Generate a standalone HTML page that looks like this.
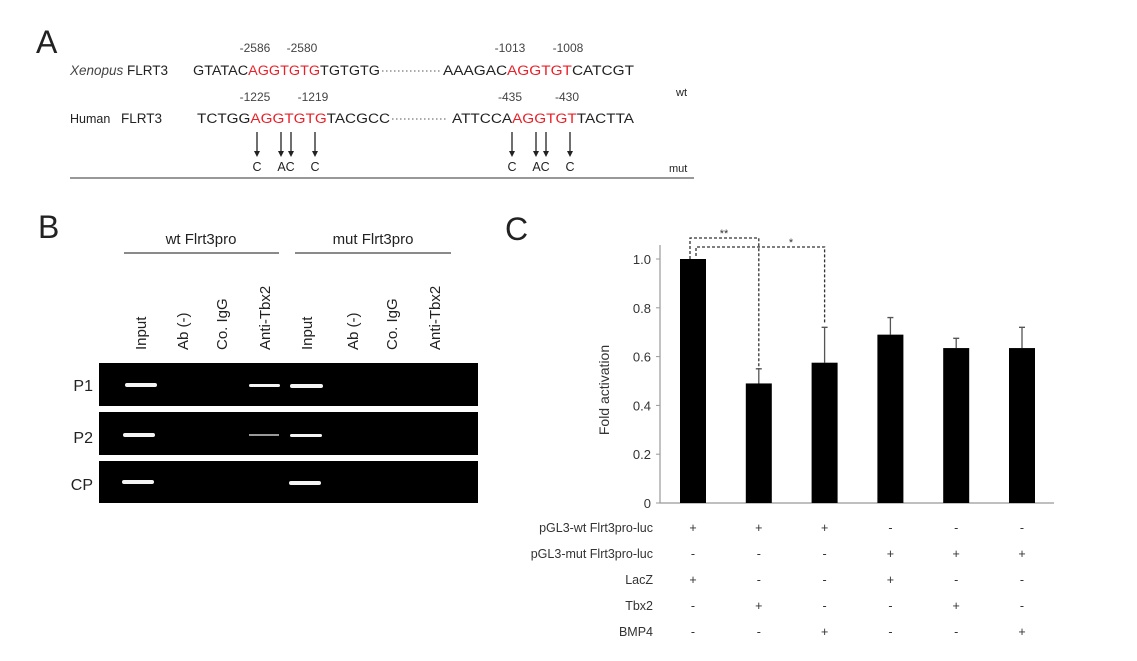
<!DOCTYPE html>
<html><head><meta charset="utf-8"><style>
body{margin:0;background:#fff;}
svg{display:block;font-family:"Liberation Sans",Arial,sans-serif;}
</style></head><body>
<svg width="1137" height="661" viewBox="0 0 1137 661">
<!-- Panel A -->
<g fill="#222">
<text x="36" y="53" font-size="32">A</text>
<g font-size="12" fill="#444">
<text x="255" y="52" text-anchor="middle">-2586</text><text x="302" y="52" text-anchor="middle">-2580</text>
<text x="510" y="52" text-anchor="middle">-1013</text><text x="568" y="52" text-anchor="middle">-1008</text>
<text x="255" y="101" text-anchor="middle">-1225</text><text x="313" y="101" text-anchor="middle">-1219</text>
<text x="510" y="101" text-anchor="middle">-435</text><text x="567" y="101" text-anchor="middle">-430</text>
</g>
<g font-size="13.5">
<text x="70" y="75"><tspan font-style="italic" fill="#444">Xenopus</tspan> FLRT3</text>
<text x="193" y="75" textLength="187" lengthAdjust="spacingAndGlyphs">GTATAC<tspan fill="#e8222a">AGGTGTG</tspan>TGTGTG</text>
<line x1="382" y1="71" x2="440" y2="71" stroke="#555" stroke-dasharray="1.5 2.5"/>
<text x="443" y="75" textLength="191" lengthAdjust="spacingAndGlyphs">AAAGAC<tspan fill="#e8222a">AGGTGT</tspan>CATCGT</text>
</g>
<text x="676" y="96" font-size="11">wt</text>
<g font-size="13.5">
<text x="70" y="123" font-size="12.5">Human</text><text x="121" y="123">FLRT3</text>
<text x="197" y="123" textLength="193" lengthAdjust="spacingAndGlyphs">TCTGG<tspan fill="#e8222a">AGGTGTG</tspan>TACGCC</text>
<line x1="392" y1="119" x2="448" y2="119" stroke="#555" stroke-dasharray="1.5 2.5"/>
<text x="452" y="123" textLength="182" lengthAdjust="spacingAndGlyphs">ATTCCA<tspan fill="#e8222a">AGGTGT</tspan>TACTTA</text>
</g>
<g stroke="#222" stroke-width="1.3">
<path d="M257 132V153M281 132V153M291 132V153M315 132V153M512 132V153M536 132V153M546 132V153M570 132V153"/>
</g>
<g fill="#222">
<path d="M254 151h6l-3 6zM278 151h6l-3 6zM288 151h6l-3 6zM312 151h6l-3 6zM509 151h6l-3 6zM533 151h6l-3 6zM543 151h6l-3 6zM567 151h6l-3 6z"/>
</g>
<g font-size="12.5" text-anchor="middle">
<text x="257" y="171">C</text><text x="286" y="171">AC</text><text x="315" y="171">C</text>
<text x="512" y="171">C</text><text x="541" y="171">AC</text><text x="570" y="171">C</text>
</g>
<text x="669" y="172" font-size="11">mut</text>
<line x1="70" y1="178" x2="694" y2="178" stroke="#777" stroke-width="1.5"/>
</g>
<!-- Panel B -->
<g fill="#222">
<text x="38" y="238" font-size="32">B</text>
<text x="201" y="244" font-size="15" text-anchor="middle">wt Flrt3pro</text>
<text x="373" y="244" font-size="15" text-anchor="middle">mut Flrt3pro</text>
<line x1="124" y1="253" x2="279" y2="253" stroke="#444" stroke-width="1.3"/>
<line x1="295" y1="253" x2="451" y2="253" stroke="#444" stroke-width="1.3"/>
<g font-size="15">
<text transform="translate(146,350) rotate(-90)">Input</text>
<text transform="translate(188,350) rotate(-90)">Ab (-)</text>
<text transform="translate(227,350) rotate(-90)">Co. IgG</text>
<text transform="translate(270,350) rotate(-90)">Anti-Tbx2</text>
<text transform="translate(312,350) rotate(-90)">Input</text>
<text transform="translate(358,350) rotate(-90)">Ab (-)</text>
<text transform="translate(397,350) rotate(-90)">Co. IgG</text>
<text transform="translate(440,350) rotate(-90)">Anti-Tbx2</text>
</g>
<g font-size="16" text-anchor="end">
<text x="93" y="391">P1</text><text x="93" y="443">P2</text><text x="93" y="490">CP</text>
</g>
<rect x="99" y="363" width="379" height="43" fill="#000"/>
<rect x="99" y="412" width="379" height="43" fill="#000"/>
<rect x="99" y="461" width="379" height="42" fill="#000"/>
<g fill="#f4f4f4">
<rect x="125" y="383" width="32" height="4" rx="2"/><rect x="249" y="384" width="31" height="3" rx="1.5"/><rect x="290" y="384" width="33" height="4" rx="2"/>
<rect x="123" y="433" width="32" height="4" rx="2"/><rect x="249" y="434" width="30" height="2" fill="#999"/><rect x="290" y="434" width="32" height="3" rx="1.5"/>
<rect x="122" y="480" width="32" height="4" rx="2"/><rect x="289" y="481" width="32" height="4" rx="2"/>
</g>
</g>
<!-- Panel C -->
<g fill="#222">
<text x="505" y="240" font-size="32">C</text>
<g id="chart"></g>
</g>
<script>
const values = [1.0, 0.49, 0.575, 0.69, 0.635, 0.635];
const errTops = [null, 0.55, 0.72, 0.76, 0.675, 0.72];
const yTicks = [0, 0.2, 0.4, 0.6, 0.8, 1.0];
const yTickLabels = ["0", "0.2", "0.4", "0.6", "0.8", "1.0"];
const rowLabels = ["pGL3-wt Flrt3pro-luc", "pGL3-mut Flrt3pro-luc", "LacZ", "Tbx2", "BMP4"];
const conditions = [
  ["+","+","+","-","-","-"],
  ["-","-","-","+","+","+"],
  ["+","-","-","+","-","-"],
  ["-","+","-","-","+","-"],
  ["-","-","+","-","-","+"]
];
const NS = "http://www.w3.org/2000/svg";
const g = document.getElementById('chart');
const x0 = 660, x1 = 1054, yBase = 503, yTop = 259;
const ys = v => yBase - v * (yBase - yTop);
const xs = i => 693 + i * 65.8;
function mk(t, a, txt){const e=document.createElementNS(NS,t);for(const k in a)e.setAttribute(k,a[k]);if(txt!=null)e.textContent=txt;g.appendChild(e);return e;}
let ax = mk('path',{d:`M${x0} 245V${yBase}H${x1}`,fill:'none',stroke:'#999','stroke-width':1.2});


yTicks.forEach((v,i)=>{
  let t = mk('line',{x1:x0-4,x2:x0,y1:ys(v),y2:ys(v),stroke:'#999'});
  
  
  let l = mk('text',{x:x0-9,y:ys(v)+5,'font-size':13,'text-anchor':'end',fill:'#333'},yTickLabels[i]);
  
  
});
let yt = mk('text',{transform:`translate(609,390) rotate(-90)`,'font-size':14,'text-anchor':'middle',fill:'#333'},'Fold activation');


values.forEach((v,i)=>{
  if(errTops[i]!=null){
    let e = mk('path',{d:`M${xs(i)} ${ys(v)}V${ys(errTops[i])}M${xs(i)-3} ${ys(errTops[i])}H${xs(i)+3}`,stroke:'#555','stroke-width':1.3,fill:'none'});
    
    
  }
  let b = mk('rect',{x:xs(i)-13,y:ys(v),width:26,height:yBase-ys(v),fill:'#000'});
  
  
});
let br1 = mk('path',{d:`M${xs(0)-3} ${ys(1.0)}V238H${xs(1)}V${ys(errTops[1])}`,fill:'none',stroke:'#333','stroke-dasharray':'3 2','stroke-width':1.3});


let br2 = mk('path',{d:`M${xs(0)+3} ${ys(1.0)-3}V247H${xs(2)}V${ys(errTops[2])-4}`,fill:'none',stroke:'#333','stroke-dasharray':'3 2','stroke-width':1.3});


let s1 = mk('text',{x:724,y:237,'font-size':11,'text-anchor':'middle',fill:'#333'},'**');


let s2 = mk('text',{x:791,y:246,'font-size':11,'text-anchor':'middle',fill:'#333'},'*');


rowLabels.forEach((r,ri)=>{
  const y = 532 + ri*26;
  let l = mk('text',{x:653,y:y,'font-size':12.5,'text-anchor':'end',fill:'#333'},r);
  
  
  conditions[ri].forEach((c,ci)=>{
    let s = mk('text',{x:xs(ci),y:y,'font-size':12.5,'text-anchor':'middle',fill:'#333'},c);
    
    
  });
});
</script>
</svg>
</body></html>
